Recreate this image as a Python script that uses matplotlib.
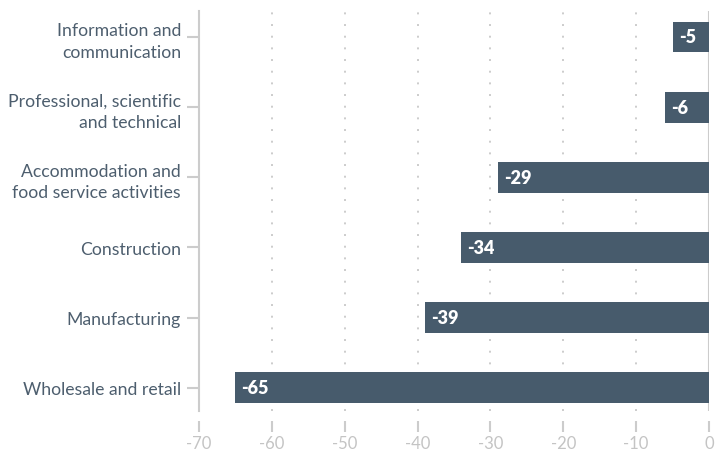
import matplotlib.pyplot as plt

# Sectors, bottom to top, with change values
sectors = [
    "Wholesale and retail",
    "Manufacturing",
    "Construction",
    "Accommodation and\nfood service activities",
    "Professional, scientific\nand technical",
    "Information and\ncommunication",
]
values = [-65, -39, -34, -29, -6, -5]
xticks = [-70, -60, -50, -40, -30, -20, -10, 0]

bar_color = "#475b6c"
label_color = "#4d5e6e"
light_gray = "#cccccc"

plt.rcParams['font.family'] = ['Lato', 'DejaVu Sans']

fig = plt.figure(figsize=(7.27, 4.52), dpi=100)
ax = fig.add_axes([0.2737, 0.0885, 0.7015, 0.885])

ypos = list(range(len(sectors)))
ax.barh(ypos, values, height=0.44, color=bar_color, zorder=3)

for y, v in zip(ypos, values):
    ax.text(v + 0.85, y, str(v), color="white", fontsize=13, fontweight="heavy",
            va="center", ha="left", zorder=4)

# dotted gridlines
for t in xticks[1:-1]:
    ax.axvline(t, color=light_gray, linestyle=(0, (1, 5)), linewidth=1.4, zorder=1)
ax.axvline(0, color=light_gray, linewidth=1.5, zorder=2)

ax.set_xlim(-70, 0)
ax.set_ylim(-0.33, 5.37)
ax.set_xticks(xticks)
ax.set_xticklabels([str(t) for t in xticks])
ax.set_yticks(ypos)
ax.set_yticklabels(sectors, linespacing=1.4)

for side in ["top", "right"]:
    ax.spines[side].set_visible(False)
ax.spines["left"].set_color(light_gray)
ax.spines["left"].set_linewidth(1.5)
ax.spines["bottom"].set_position(("outward", 7))
ax.spines["bottom"].set_visible(False)

ax.tick_params(axis="y", length=9, width=1.5, color=light_gray, labelcolor=label_color,
               labelsize=12.7, pad=4)
ax.tick_params(axis="x", length=8, width=1.5, color=light_gray, labelcolor="#c4c4c4",
               labelsize=12, pad=2)

fig.savefig("out.png", dpi=100)
